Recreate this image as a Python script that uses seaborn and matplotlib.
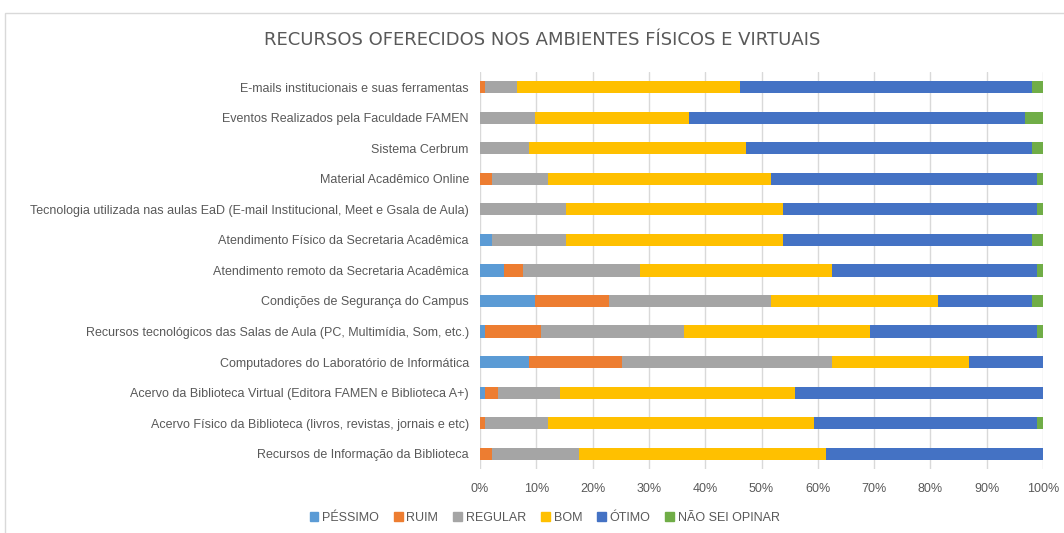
''' recursos oferecidos - barras empilhadas 100% '''
import matplotlib
matplotlib.use('Agg')
import matplotlib.pyplot as plt
import matplotlib.patches as mpatches
import pandas as pd
import seaborn as sns

#--- dados (% por categoria)
categorias = [
    'E-mails institucionais e suas ferramentas',
    'Eventos Realizados pela Faculdade FAMEN',
    'Sistema Cerbrum',
    'Material Acadêmico Online',
    'Tecnologia utilizada nas aulas EaD (E-mail Institucional, Meet e Gsala de Aula)',
    'Atendimento Físico da Secretaria Acadêmica',
    'Atendimento remoto da Secretaria Acadêmica',
    'Condições de Segurança do Campus',
    'Recursos tecnológicos das Salas de Aula (PC, Multimídia, Som, etc.)',
    'Computadores do Laboratório de Informática',
    'Acervo da Biblioteca Virtual (Editora FAMEN e Biblioteca A+)',
    'Acervo Físico da Biblioteca (livros, revistas, jornais e etc)',
    'Recursos de Informação da Biblioteca',
]
pessimo = [0.0, 0.0, 0.0, 0.0, 0.0, 2.1, 4.3, 9.7, 0.9, 8.7, 0.9, 0.0, 0.0]
ruim    = [0.9, 0.0, 0.0, 2.1, 0.0, 0.0, 3.3, 13.2, 10.0, 16.5, 2.3, 0.9, 2.1]
regular = [5.6, 9.8, 8.7, 10.0, 15.3, 13.2, 20.9, 28.7, 25.3, 37.4, 11.0, 11.2, 15.5]
bom     = [39.7, 27.4, 38.5, 39.5, 38.6, 38.6, 34.1, 29.8, 33.0, 24.2, 41.8, 47.2, 43.9]
otimo   = [51.8, 59.6, 50.8, 47.4, 45.1, 44.1, 36.4, 16.6, 29.8, 13.2, 44.0, 39.7, 38.5]
nao_sei = [2.0, 3.2, 2.0, 1.0, 1.0, 2.0, 1.0, 2.0, 1.0, 0.0, 0.0, 1.0, 0.0]

series = ['PÉSSIMO', 'RUIM', 'REGULAR', 'BOM', 'ÓTIMO', 'NÃO SEI OPINAR']
cores = ['#5B9BD5', '#ED7D31', '#A5A5A5', '#FFC000', '#4472C4', '#70AD47']

df = pd.DataFrame({'cat': categorias, 'PÉSSIMO': pessimo, 'RUIM': ruim,
                   'REGULAR': regular, 'BOM': bom, 'ÓTIMO': otimo,
                   'NÃO SEI OPINAR': nao_sei})
# normaliza para 100%
tot = df[series].sum(axis=1)
for s in series:
    df[s] = df[s] / tot * 100

sns.set_style('white')
plt.rcParams['font.family'] = ['Liberation Sans', 'DejaVu Sans']

fig = plt.figure(figsize=(10.64, 5.33), dpi=100)
ax = fig.add_axes([0.4511, 0.1201, 0.5292, 0.745])

#--- empilhado: desenha o acumulado do maior para o menor
cum = df[series].cumsum(axis=1)
for s, c in reversed(list(zip(series, cores))):
    sns.barplot(data=cum, x=s, y=df['cat'], color=c, width=0.4,
                orient='h', ax=ax, saturation=1, linewidth=0)

ax.set_xlim(0, 100)
ax.set_xticks(range(0, 101, 10))
ax.set_xticklabels([f'{v}%' for v in range(0, 101, 10)])
ax.set_xlabel('')
ax.set_ylabel('')
ax.xaxis.grid(True, color='#D9D9D9', linewidth=1)
ax.set_axisbelow(True)
for sp in ax.spines.values():
    sp.set_visible(False)
ax.tick_params(axis='both', length=0, labelsize=9, colors='#595959')
ax.tick_params(axis='y', pad=8)
ax.tick_params(axis='x', pad=10)

fig.text(0.51, 0.925, 'RECURSOS OFERECIDOS NOS AMBIENTES FÍSICOS E VIRTUAIS',
         ha='center', va='center', fontsize=13, color='#595959',
         family=['Liberation Sans Narrow', 'DejaVu Sans'])

handles = [mpatches.Patch(color=c, label=s) for s, c in zip(series, cores)]
leg = fig.legend(handles=handles, loc='center', bbox_to_anchor=(0.512, 0.028),
                 ncol=6, frameon=False, fontsize=9, handlelength=0.7,
                 handleheight=0.7, handletextpad=0.3, columnspacing=1.2)
for t in leg.get_texts():
    t.set_color('#595959')

# borda da área do gráfico
fig.patches.append(mpatches.Rectangle((5 / 1064, -0.01), 1.0, 1 - 13 / 533 + 0.01,
                                      transform=fig.transFigure, fill=False,
                                      edgecolor='#D9D9D9', linewidth=1))

plt.savefig('out.png', dpi=100)
